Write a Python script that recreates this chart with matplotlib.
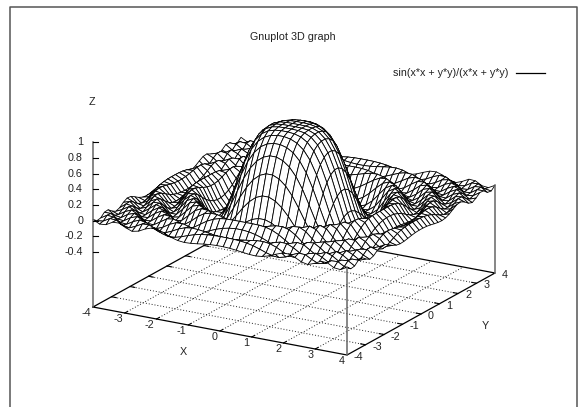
import numpy as np
import matplotlib
matplotlib.use("Agg")
import matplotlib.pyplot as plt
from matplotlib.collections import PolyCollection

plt.rcParams["font.family"] = ["Liberation Sans", "DejaVu Sans"]

TITLE = "Gnuplot 3D graph"
LEGEND = "sin(x*x + y*y)/(x*x + y*y)"
X_TICKS = [-4, -3, -2, -1, 0, 1, 2, 3, 4]
Y_TICKS = [-4, -3, -2, -1, 0, 1, 2, 3, 4]
Z_TICKS = [-0.4, -0.2, 0, 0.2, 0.4, 0.6, 0.8, 1]
Z_LABELS = ["-0.4", "-0.2", "0", "0.2", "0.4", "0.6", "0.8", "1"]

# 40 samples per axis, the mesh looks symmetric so only one octant is typed.
# Heights are hand estimates guided by the function named in the legend,
# they were not measured one by one from the pixels.
GRID_STEP = 8 / 39
HEIGHTS = [
    [1.000],
    [.998, .994],
    [.988, .979, .955],
    [.955, .939, .902, .832],
    [.880, .857, .806, .716, .582],
    [.748, .716, .651, .546, .400, .220],
    [.546, .510, .437, .327, .186, .030, -.113],
    [.291, .255, .186, .090, -.024, -.131, -.203, -.211],
    [.030, .002, -.049, -.113, -.175, -.214, -.206, -.142, -.033],
    [-.162, -.175, -.196, -.214, -.215, -.185, -.117, -.019, .077, .127],
    [-.215, -.211, -.200, -.175, -.130, -.061, .021, .094, .128, .099, .016],
    [-.117, -.103, -.075, -.033, .021, .077, .119, .126, .085, .007, -.069, -.089],
    [.045, .056, .077, .102, .123, .127, .105, .052, -.020, -.078, -.087, -.034, .042],
    [.128, .128, .126, .116, .092, .052, -.002, -.057, -.090, -.078, -.021, .047, .070, .024],
    [.061, .052, .034, .007, -.028, -.063, -.088, -.087, -.053, .006, .059, .067, .018, -.044, -.052],
    [-.063, -.069, -.078, -.088, -.091, -.081, -.053, -.007, .042, .070, .056, .002, -.050, -.049, .006, .048],
    [-.078, -.073, -.064, -.047, -.021, .013, .047, .069, .065, .029, -.023, -.057, -.041, .014, .049, .019, -.035],
    [.025, .031, .042, .055, .067, .071, .059, .029, -.014, -.050, -.055, -.021, .029, .048, .012, -.037, -.029, .023],
    [.067, .065, .059, .048, .029, .002, -.028, -.052, -.057, -.033, .010, .045, .041, -.004, -.041, -.024, .026, .031, -.017],
    [-.019, -.023, -.032, -.044, -.054, -.058, -.049, -.025, .010, .041, .047, .019, -.024, -.042, -.011, .032, .027, -.020, -.028, .017],
]

FONT_SIZE = 7.75
TEXT_COLOR = "#222222"


def project(x, y, z):
    # gnuplot view 60,30 is a plain affine map, base plane sits at z = -1.1
    px = 93 + (np.asarray(x) + 4) * 31.75 + (np.asarray(y) + 4) * 18.5
    py = 307 + (np.asarray(x) + 4) * 6.0 - (np.asarray(y) + 4) * 10.25 - (np.asarray(z) + 1.1) * 78.5
    return px, py


quarter = np.zeros((20, 20))
for a, row in enumerate(HEIGHTS):
    for b, v in enumerate(row):
        quarter[a, b] = v
        quarter[b, a] = v
idx = list(range(19, -1, -1)) + list(range(20))
z = quarter[np.ix_(idx, idx)]
axis_vals = np.array([(i - 19.5) * GRID_STEP for i in range(40)])
xg, yg = np.meshgrid(axis_vals, axis_vals, indexing="ij")
base = -1.1

fig = plt.figure(figsize=(5.78, 4.07), dpi=100)
ax = fig.add_axes([0, 0, 1, 1])
ax.set_xlim(0, 578)
ax.set_ylim(407, 0)
ax.axis("off")

# outer frame, open at the bottom
ax.plot([10, 10, 577, 577], [407, 7, 7, 407], color="#555555", lw=1.1, zorder=1)

# base grid
for t in X_TICKS[1:-1]:
    px, py = project([t, t], [-4, 4], [base, base])
    ax.plot(px, py, color="#222222", lw=0.7, ls=(0, (1, 2)), zorder=2)
    px, py = project([t, t], [-4, -3.85], [base, base])
    ax.plot(px, py, color="black", lw=0.8, zorder=2)
for t in Y_TICKS[1:-1]:
    px, py = project([-4, 4], [t, t], [base, base])
    ax.plot(px, py, color="#222222", lw=0.7, ls=(0, (1, 2)), zorder=2)
    px, py = project([4, 3.85], [t, t], [base, base])
    ax.plot(px, py, color="black", lw=0.8, zorder=2)
    px, py = project([-4, -3.85], [t, t], [base, base])
    ax.plot(px, py, color="black", lw=0.8, zorder=2)
px, py = project([-4, 4, 4, -4, -4], [-4, -4, 4, 4, -4], [base] * 5)
ax.plot(px, py, color="black", lw=0.9, zorder=2)

# surface, painted far to near so the mesh hides what is behind it
polys = []
depth = []
for i in range(39):
    for j in range(39):
        cx = xg[[i, i + 1, i + 1, i], [j, j, j + 1, j + 1]]
        cy = yg[[i, i + 1, i + 1, i], [j, j, j + 1, j + 1]]
        cz = z[[i, i + 1, i + 1, i], [j, j, j + 1, j + 1]]
        px, py = project(cx, cy, cz)
        polys.append(np.column_stack([px, py]))
        depth.append(0.5 * cx.mean() - 0.866 * cy.mean() + 0.577 * cz.mean())
order = np.argsort(depth)
mesh = PolyCollection([polys[k] for k in order], facecolors="white", edgecolors="black",
                      linewidths=0.6, zorder=3)
ax.add_collection(mesh)

# corner verticals
for cx, cy, top in [(-4, -4, 1), (4, -4, z[-1, 0]), (4, 4, z[-1, -1])]:
    px, py = project([cx, cx], [cy, cy], [base, top])
    ax.plot(px, py, color="#666666", lw=1.1, zorder=4)

# z ticks
for t, lab in zip(Z_TICKS, Z_LABELS):
    px, py = project(-4, -4, t)
    ax.plot([px, px + 5], [py, py], color="black", lw=0.8, zorder=4)
    ax.text(px - 10, py, lab, ha="right", va="center", fontsize=FONT_SIZE, color=TEXT_COLOR)

# x and y tick labels
for t in X_TICKS:
    px, py = project(t, -4, base)
    ax.text(px - 2, py + 6, str(t), ha="right", va="center", fontsize=FONT_SIZE, color=TEXT_COLOR)
for t in Y_TICKS:
    px, py = project(4, t, base)
    ax.text(px + 7, py + 2, str(t), ha="left", va="center", fontsize=FONT_SIZE, color=TEXT_COLOR)

ax.text(183, 352, "X", ha="center", va="center", fontsize=FONT_SIZE, color=TEXT_COLOR)
ax.text(485, 326, "Y", ha="center", va="center", fontsize=FONT_SIZE, color=TEXT_COLOR)
ax.text(92, 102, "Z", ha="center", va="center", fontsize=FONT_SIZE, color=TEXT_COLOR)

ax.text(293, 37, TITLE, ha="center", va="center", fontsize=FONT_SIZE, color=TEXT_COLOR)
ax.text(508, 72.5, LEGEND, ha="right", va="center", fontsize=FONT_SIZE, color=TEXT_COLOR)
ax.plot([516, 545], [72.5, 72.5], color="black", lw=0.9)

fig.savefig("out.png", dpi=100)
